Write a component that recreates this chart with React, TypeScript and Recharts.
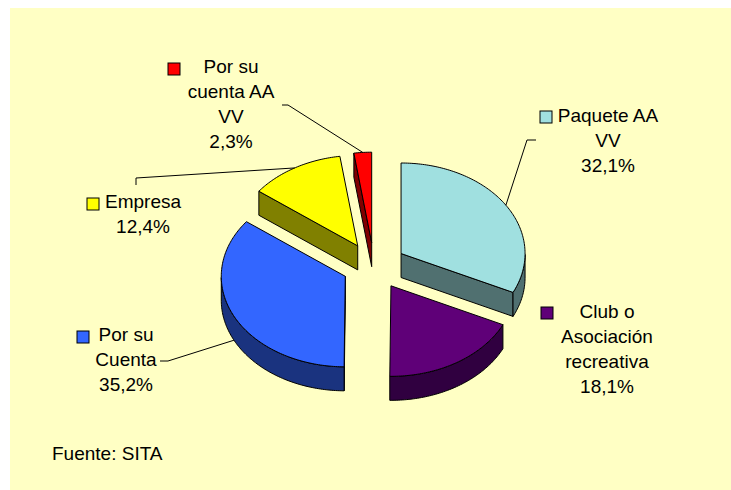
import React from 'react';
import { PieChart, Pie } from 'recharts';

// data
const categories = ['Paquete AA VV', 'Club o Asociación recreativa', 'Por su Cuenta', 'Empresa', 'Por su cuenta AA VV'];
const shares = [32.1, 18.1, 35.2, 12.4, 2.3];
const labelLines = [
  ['Paquete AA', 'VV'],
  ['Club o', 'Asociación', 'recreativa'],
  ['Por su', 'Cuenta'],
  ['Empresa'],
  ['Por su', 'cuenta AA', 'VV']
];
const sourceNote = 'Fuente: SITA';

const topColors = ['#A0E0E0', '#5F0078', '#3366FF', '#FFFF00', '#FF0000'];
const sideColors = ['#507070', '#300040', '#1A337F', '#808000', '#800000'];

// label placement (chart coords)
const labelLayout = [
  { x: 598, y: 114, key: [530, 103], leader: [[526, 132], [517, 132]] },
  { x: 597, y: 310, key: [531, 299], leader: null },
  { x: 116, y: 333, key: [67, 323], leader: [[150, 353], [158, 353]] },
  { x: 133, y: 200, key: [77, 190], leader: [[126, 177], [126, 170]] },
  { x: 221, y: 65, key: [158, 55], leader: [[272, 97], [278, 97]] }
];

const W = 721;
const H = 482;
const TILT = 0.73;
const DEPTH = 24;
const EXPLODE = 32;
const LINE = 25;
const FONT = '"Liberation Sans", Arial, sans-serif';

const data = categories.map((name, i) => ({ name, value: shares[i] }));

const rad = (d: number) => (d * Math.PI) / 180;

const pt = (cx: number, cy: number, r: number, deg: number, dy = 0): [number, number] => [
  cx + r * Math.cos(rad(deg)),
  cy - r * TILT * Math.sin(rad(deg)) + dy
];

const poly = (pts: [number, number][]) => 'M' + pts.map(p => p[0].toFixed(2) + ',' + p[1].toFixed(2)).join('L') + 'Z';

const fmt = (v: number) => v.toFixed(1).replace('.', ',') + '%';

const renderSlice = (props: any) => {
  const { cx, cy, outerRadius, startAngle, endAngle, index } = props;
  const mid = (startAngle + endAngle) / 2;
  const ex = cx + EXPLODE * Math.cos(rad(mid));
  const ey = cy - EXPLODE * TILT * Math.sin(rad(mid));
  const lo = Math.min(startAngle, endAngle);
  const hi = Math.max(startAngle, endAngle);
  const r = outerRadius;

  const steps = Math.max(2, Math.ceil(hi - lo));
  const angles: number[] = [];
  for (let k = 0; k <= steps; k++) angles.push(lo + ((hi - lo) * k) / steps);

  const top: [number, number][] = [[ex, ey], ...angles.map(a => pt(ex, ey, r, a))];

  const sides: string[] = [];
  if (Math.cos(rad(lo)) > 0.001) {
    sides.push(poly([[ex, ey], pt(ex, ey, r, lo), pt(ex, ey, r, lo, DEPTH), [ex, ey + DEPTH]]));
  }
  if (Math.cos(rad(hi)) < -0.001) {
    sides.push(poly([[ex, ey], pt(ex, ey, r, hi), pt(ex, ey, r, hi, DEPTH), [ex, ey + DEPTH]]));
  }
  // front arc band
  let run: number[] = [];
  const flush = () => {
    if (run.length > 1) {
      const upper = run.map(a => pt(ex, ey, r, a));
      const lower = run.slice().reverse().map(a => pt(ex, ey, r, a, DEPTH));
      sides.push(poly([...upper, ...lower]));
    }
    run = [];
  };
  angles.forEach(a => {
    if (Math.sin(rad(a)) < 0.001) run.push(a);
    else flush();
  });
  flush();

  const lay = labelLayout[index];
  // leader target on slice edge
  let target: [number, number] = pt(ex, ey, r, mid);
  if (Math.sin(rad(mid)) < 0) target = pt(ex, ey, r, mid, DEPTH);

  const lines = [...labelLines[index], fmt(shares[index])];

  return (
    <g>
      {sides.map((d, k) => (
        <path key={k} d={d} fill={sideColors[index]} stroke="#000" strokeWidth={1} strokeLinejoin="round" />
      ))}
      <path d={poly(top)} fill={topColors[index]} stroke="#000" strokeWidth={1} strokeLinejoin="round" />
      {lay.leader && (
        <polyline
          points={[...lay.leader, target].map(p => p.join(',')).join(' ')}
          fill="none"
          stroke="#000"
          strokeWidth={1}
        />
      )}
      <rect x={lay.key[0]} y={lay.key[1]} width={12} height={12} fill={topColors[index]} stroke="#000" strokeWidth={1} />
      {lines.map((t, k) => (
        <text
          key={'t' + k}
          x={lay.x}
          y={lay.y + k * LINE}
          textAnchor="middle"
          fontSize={19}
          fontFamily={FONT}
          fill="#000"
        >
          {t}
        </text>
      ))}
    </g>
  );
};

export default function App() {
  return (
    <div style={{ position: 'absolute', left: 10, top: 8, width: W, height: H, background: '#FFFFC4' }}>
      <PieChart width={W} height={H} margin={{ top: 0, right: 0, bottom: 0, left: 0 }}>
        <Pie
          data={data}
          dataKey="value"
          nameKey="name"
          cx={364}
          cy={258}
          outerRadius={124}
          startAngle={90}
          endAngle={-270}
          fill="transparent"
          stroke="none"
          label={renderSlice}
          labelLine={false}
          isAnimationActive={false}
        />
      </PieChart>
      <div
        style={{
          position: 'absolute',
          left: 42,
          top: 435,
          fontFamily: FONT,
          fontSize: 19,
          lineHeight: '22px',
          color: '#000'
        }}
      >
        {sourceNote}
      </div>
    </div>
  );
}
